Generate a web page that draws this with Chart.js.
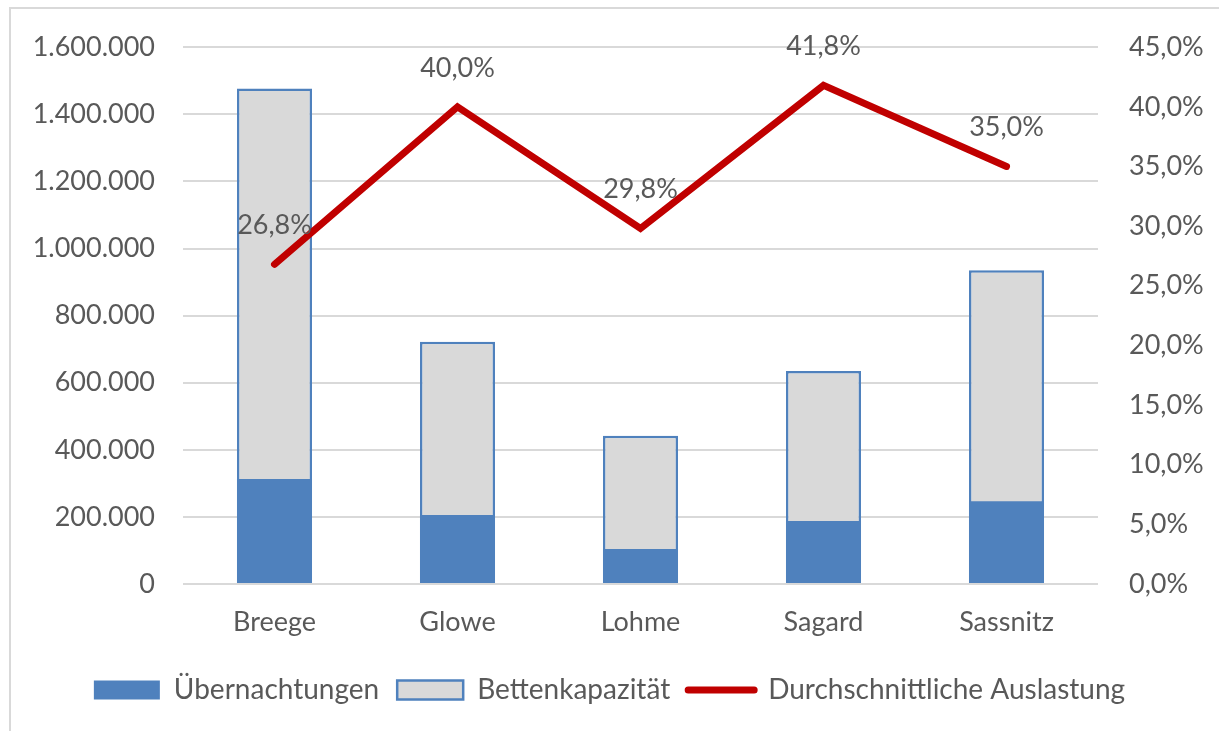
<!DOCTYPE html>
<html>
<head>
<meta charset="utf-8">
<script src="https://cdn.jsdelivr.net/npm/chart.js@4/dist/chart.umd.min.js"></script>
<style>
  html, body { margin: 0; padding: 0; background: #fff; }
  #wrap { position: relative; width: 1219px; height: 731px; overflow: hidden; }
  #frame { position: absolute; left: 9px; top: 7px; width: 1400px; height: 900px; border: 2px solid #d9d9d9; }
  #chart { position: absolute; left: 0; top: 0; }
</style>
</head>
<body>
<div id="wrap">
  <div id="frame"></div>
  <canvas id="chart" width="1219" height="731"></canvas>
</div>
<script>
var orte = ['Breege', 'Glowe', 'Lohme', 'Sagard', 'Sassnitz'];
var uebernachtungen = [313000, 206000, 104000, 188000, 247000];
var bettenkapazitaet = [1477000, 722000, 442000, 635000, 935000];
var auslastung = [26.8, 40.0, 29.8, 41.8, 35.0];

var textColor = '#595959';
var fontName = 'Lato, "Open Sans", sans-serif';

function tausender(v) {
  return String(Math.round(v)).replace(/\B(?=(\d{3})+(?!\d))/g, '.');
}
function prozent(v) {
  return v.toFixed(1).replace('.', ',') + '%';
}

// labels above the line points
var lineLabels = {
  id: 'lineLabels',
  afterDatasetsDraw: function(chart) {
    var ctx = chart.ctx;
    var meta = chart.getDatasetMeta(2);
    ctx.save();
    ctx.font = '27px ' + fontName;
    ctx.fillStyle = textColor;
    ctx.textAlign = 'center';
    ctx.textBaseline = 'middle';
    meta.data.forEach(function(pt, i) {
      ctx.fillText(prozent(auslastung[i]), pt.x, pt.y - 39);
    });
    ctx.restore();
  }
};

var ctx = document.getElementById('chart');

var chart = new Chart(ctx, {
  type: 'bar',
  data: {
    labels: orte,
    datasets: [
      {
        label: 'Übernachtungen',
        data: uebernachtungen,
        backgroundColor: '#4f81bd',
        borderWidth: 0,
        grouped: false,
        order: 1,
        yAxisID: 'y'
      },
      {
        label: 'Bettenkapazität',
        data: bettenkapazitaet,
        backgroundColor: '#d9d9d9',
        borderColor: '#4f81bd',
        borderWidth: 2.5,
        grouped: false,
        order: 2,
        yAxisID: 'y'
      },
      {
        type: 'line',
        label: 'Durchschnittliche Auslastung',
        data: auslastung,
        borderColor: '#c00000',
        backgroundColor: '#c00000',
        borderWidth: 7,
        borderCapStyle: 'round',
        borderJoinStyle: 'miter',
        pointRadius: 0,
        tension: 0,
        order: 0,
        yAxisID: 'y1'
      }
    ]
  },
  options: {
    responsive: false,
    animation: false,
    devicePixelRatio: 1,
    categoryPercentage: 1,
    barPercentage: 0.41,
    layout: { padding: { top: 47, left: 0, right: 0, bottom: 17 } },
    plugins: {
      tooltip: { enabled: false },
      legend: {
        position: 'bottom',
        labels: {
          usePointStyle: true,
          pointStyleWidth: 66,
          boxHeight: 19,
          padding: 18,
          color: textColor,
          font: { family: fontName, size: 28 },
          sort: function(a, b) { return a.datasetIndex - b.datasetIndex; },
          generateLabels: function(chart) {
            return chart.data.datasets.map(function(ds, i) {
              var isLine = ds.type === 'line';
              return {
                text: ds.label,
                datasetIndex: i,
                fillStyle: isLine ? ds.borderColor : ds.backgroundColor,
                strokeStyle: ds.borderColor || ds.backgroundColor,
                lineWidth: isLine ? 7 : ds.borderWidth,
                lineCap: 'round',
                pointStyle: isLine ? 'line' : 'rect',
                hidden: !chart.isDatasetVisible(i),
                fontColor: textColor
              };
            });
          }
        }
      }
    },
    scales: {
      x: {
        offset: true,
        grid: { display: false, drawTicks: false },
        border: { display: false },
        ticks: { color: textColor, padding: 22, font: { family: fontName, size: 27 } },
        afterFit: function(scale) { scale.height = 74; }
      },
      y: {
        position: 'left',
        min: 0,
        max: 1600000,
        grid: { color: '#d9d9d9', lineWidth: 2, drawTicks: false },
        border: { display: false },
        ticks: {
          stepSize: 200000,
          color: textColor,
          padding: 28,
          font: { family: fontName, size: 27 },
          callback: function(v) { return tausender(v); }
        },
        afterFit: function(scale) { scale.width = 183; }
      },
      y1: {
        position: 'right',
        min: 0,
        max: 45,
        grid: { display: false, drawTicks: false },
        border: { display: false },
        ticks: {
          stepSize: 5,
          color: textColor,
          padding: 31,
          font: { family: fontName, size: 27 },
          callback: function(v) { return prozent(v); }
        },
        afterFit: function(scale) { scale.width = 121; }
      }
    }
  },
  plugins: [lineLabels]
});
</script>
</body>
</html>
